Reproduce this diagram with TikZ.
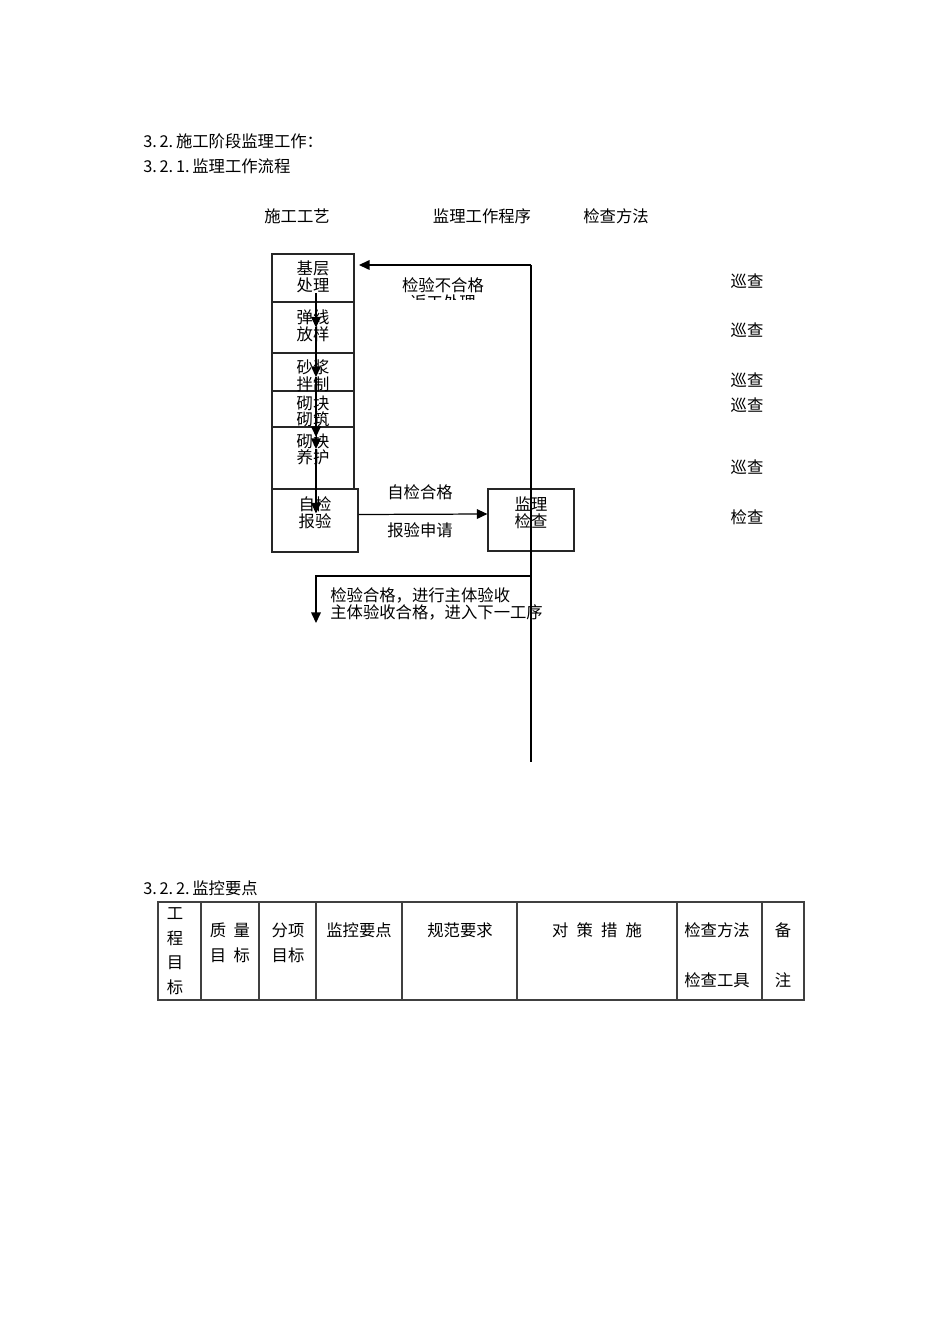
\documentclass[tikz,border=0pt]{standalone}
\usepackage{fontspec}
\setmainfont{Noto Sans CJK SC}
\usetikzlibrary{arrows.meta,positioning,calc}
\newlength{\pu}\setlength{\pu}{0.02cm}

\begin{document}
\begin{tikzpicture}[x=0.02cm,y=-0.02cm,
    every node/.style={font=\fontsize{9.3}{9.6}\selectfont, inner sep=0pt},
    stepbox/.style={draw=black!85, line width=0.7pt, minimum width=82\pu},
    flow/.style={line width=0.7pt, -{Triangle[length=6pt,width=5.5pt]}},
    plainline/.style={line width=0.7pt},
    gridline/.style={line width=0.6pt, black!75}]
  \useasboundingbox (0,0) rectangle (950,1344);
  % Headings
  \node[anchor=west] (h1) at (143,141) {3.\,2.\,施工阶段监理工作：};
  \node[anchor=west] (h2) at (143,166) {3.\,2.\,1.\,监理工作流程};
  \node (colA) at (297,216) {施工工艺};
  \node (colB) at (482,216) {监理工作程序};
  \node (colC) at (616,216) {检查方法};
  % Process boxes (text sits near the top of each box)
  \node[stepbox, minimum height=48\pu] (b1) at (313,278) {};
  \node[stepbox, minimum height=51\pu] (b2) at (313,327.5) {};
  \node[stepbox, minimum height=38\pu] (b3) at (313,372) {};
  \node[stepbox, minimum height=36\pu] (b4) at (313,409) {};
  \node[stepbox, minimum height=62\pu] (b5) at (313,458) {};
  \node[stepbox, minimum width=86\pu, minimum height=63\pu] (b6) at (315,520.5) {};
  \node[stepbox, minimum width=86\pu, minimum height=62\pu] (jc) at (531,520) {};
  \node[align=center] (t1) at ([yshift=-23\pu]b1.north) {基层\\处理};
  \node[align=center] (t2) at ([yshift=-24\pu]b2.north) {弹线\\放样};
  \node[align=center] (t3) at ([yshift=-23\pu]b3.north) {砂浆\\拌制};
  \node[align=center] (t4) at ([yshift=-21\pu]b4.north) {砌块\\砌筑};
  \node[align=center] (t5) at ([yshift=-23\pu]b5.north) {砌块\\养护};
  \node[align=center] (t6) at ([yshift=-24\pu]b6.north) {自检\\报验};
  \node[align=center] (t7) at ([yshift=-24\pu]jc.north) {监理\\检查};
  % Down the process column
  \draw[flow] ($(b1.center)+(3,15)$) -- ($(b2.center)+(3,0)$);
  \draw[flow] ($(b2.center)+(3,0)$) -- ($(b3.center)+(3,5)$);
  \draw[flow] ($(b3.center)+(3,5)$) -- ($(b5.center)+(3,-21)$);
  \draw[flow] ($(b5.center)+(3,-21)$) -- ($(b5.center)+(3,-9)$);
  \draw[flow] ($(b5.center)+(3,-9)$) -- ($(b6.center)+(1,-7)$);
  % Self check to supervisor
  \draw[flow] ([yshift=6\pu]b6.east) -- ([yshift=6\pu]jc.west);
  \node (selfok) at (420,492) {自检合格};
  \node (apply) at (420,530) {报验申请};
  % Return loop and pass branch
  \coordinate (back) at (531,265);
  \coordinate (backtip) at (359,265);
  \coordinate (lineend) at (531,762);
  \coordinate (pass) at (531,576);
  \coordinate (passtip) at (316,623);
  \draw[plainline] (back) -- (lineend);
  \draw[flow] (back) -- (backtip);
  \draw[flow] (pass) -| (passtip);
  \begin{scope}
    \clip (380,270) rectangle (500,300);
    \node[align=center] (fail) at (443,294) {检验不合格\\返工处理};
  \end{scope}
  \begin{scope}
    \clip (320,585) rectangle (546,625);
    \node[align=left, anchor=west] (passtext) at (330,604) {检验合格，进行主体验收\\主体验收合格，进入下一工序};
  \end{scope}
  % Check methods
  \foreach \y/\t [count=\i] in {281/巡查,330/巡查,380/巡查,405/巡查,467/巡查,517/检查}
    \node (chk\i) at (747,\y) {\t};
  % Key control points table
  \node[anchor=west] (h3) at (143,888) {3.\,2.\,2.\,监控要点};
  \draw[gridline] (158,902) rectangle (804,1000);
  \foreach \x in {201,259,316,402,517,677,762}
    \draw[gridline] (\x,902) -- (\x,1000);
  \node[align=center, font=\fontsize{9.3}{14}\selectfont] (c1) at (175,951) {工\\程\\目\\标};
  \node[align=center, font=\fontsize{9.3}{14.2}\selectfont] (c2) at (230,942.5) {质\hspace{0.45em}量\\目\hspace{0.45em}标};
  \node[align=center, font=\fontsize{9.3}{14.2}\selectfont] (c3) at (288,942.5) {分项\\目标};
  \node (c4) at (359,930) {监控要点};
  \node (c5) at (460,930) {规范要求};
  \node (c6) at (597,930) {对\hspace{0.5em}策\hspace{0.5em}措\hspace{0.5em}施};
  \node (c7) at (717,930) {检查方法};
  \node (c7b) at (717,980) {检查工具};
  \node (c8) at (783,930) {备};
  \node (c8b) at (783,980) {注};
\end{tikzpicture}
\end{document}
